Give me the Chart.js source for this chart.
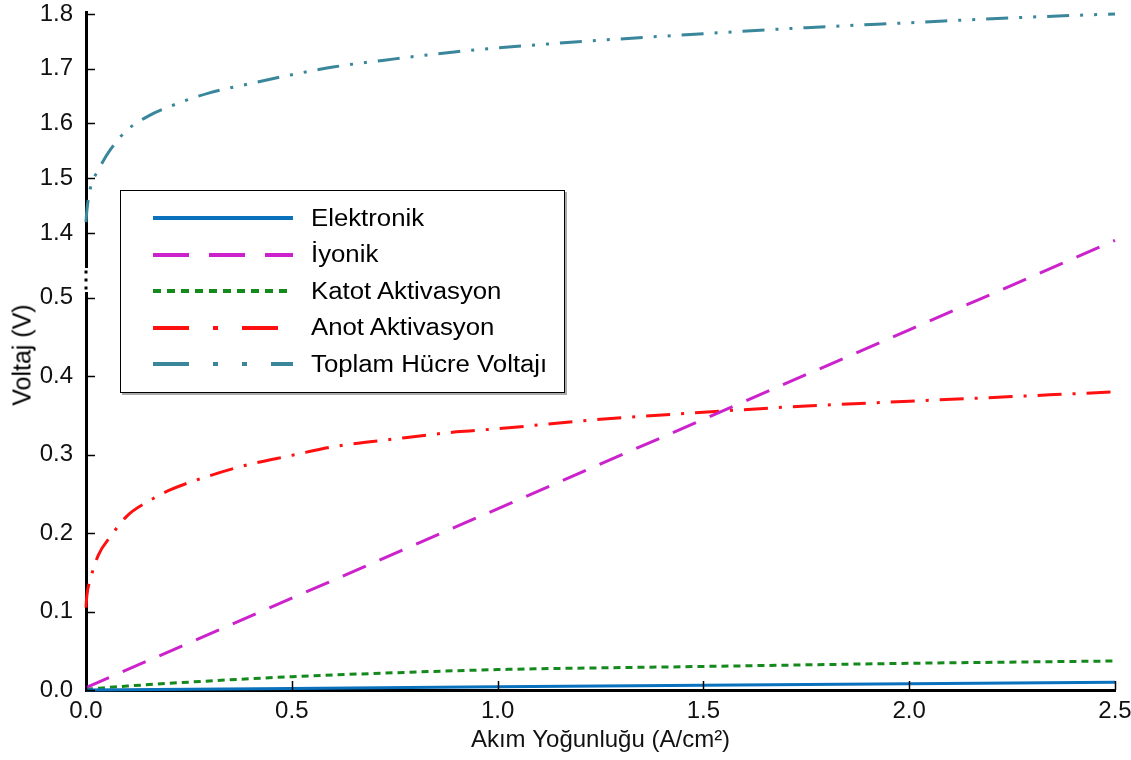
<!DOCTYPE html>
<html>
<head>
<meta charset="utf-8">
<script src="https://cdn.jsdelivr.net/npm/chart.js@4.4.1/dist/chart.umd.min.js"></script>
<style>
    body { margin: 0; background: #fff; font-family: "Liberation Sans", Arial, sans-serif; }
    #wrap { position: relative; width: 1131px; height: 760px; }
    #ytitle {
        position: absolute; left: 22px; top: 355px;
        transform: translate(-50%, -50%) rotate(-90deg);
        font-size: 25px; color: #000; white-space: nowrap;
    }
    #legend {
        position: absolute; left: 120px; top: 190px; width: 443px; height: 201px;
        border: 1.5px solid #000; background: #fff; box-shadow: 2px 2px 0 #aaa;
    }
    .row { position: absolute; left: 0; height: 36px; display: flex; align-items: center; }
    .row svg { margin-left: 32px; }
    .row span {
        margin-left: 18px; font-size: 23px; color: #000; white-space: nowrap;
        display: inline-block; transform: scaleX(1.12); transform-origin: left center;
    }
</style>
</head>
<body>
<div id="wrap">
    <canvas id="myChart"></canvas>
    <div id="ytitle">Voltaj (V)</div>
    <div id="legend"></div>
</div>
<script>
// series (x in A/cm2, y in V)
const elekX = [0, 0.5, 1.0, 1.5, 2.0, 2.5];
const elekY = [0.0, 0.002, 0.004, 0.006, 0.008, 0.010];

const iyonX = [0, 0.5, 1.0, 1.5, 2.0, 2.5];
const iyonY = [0.003, 0.117, 0.231, 0.345, 0.459, 0.573];

const katotX = [0, 0.1, 0.25, 0.5, 0.75, 1.0, 1.5, 2.0, 2.5];
const katotY = [0.001, 0.005, 0.010, 0.017, 0.022, 0.026, 0.030, 0.034, 0.037];

const anotX = [0, 0.002, 0.01, 0.03, 0.06, 0.1, 0.15, 0.2, 0.3, 0.4, 0.5, 0.6, 0.75, 0.9, 1.0, 1.25, 1.5, 1.75, 2.0, 2.25, 2.5];
const anotY = [0.105, 0.12, 0.14, 0.172, 0.196, 0.222, 0.240, 0.254, 0.273, 0.288, 0.299, 0.310, 0.320, 0.329, 0.333, 0.345, 0.354, 0.362, 0.368, 0.374, 0.380];

const toplamX = [0, 0.002, 0.01, 0.03, 0.06, 0.1, 0.15, 0.2, 0.3, 0.4, 0.5, 0.6, 0.75, 0.9, 1.0, 1.25, 1.5, 1.75, 2.0, 2.25, 2.5];
const toplamY = [1.42, 1.44, 1.48, 1.515, 1.553, 1.588, 1.613, 1.630, 1.656, 1.673, 1.689, 1.703, 1.718, 1.731, 1.738, 1.752, 1.764, 1.775, 1.784, 1.793, 1.800];

// axis ticks
const xTicks = [0, 0.5, 1.0, 1.5, 2.0, 2.5];
const yLowTicks = [0, 0.1, 0.2, 0.3, 0.4, 0.5];
const yHighTicks = [1.4, 1.5, 1.6, 1.7, 1.8];

const seriesNames = ['Elektronik', 'İyonik', 'Katot Aktivasyon', 'Anot Aktivasyon', 'Toplam Hücre Voltajı'];
const colors = ['#0a72bd', '#cc22cc', '#14891c', '#ff1010', '#3a879c'];
const dashes = [[], [25, 15], [7, 5], [24, 11, 3, 11], [22, 11, 3, 11, 3, 11]];
const legendDashes = [[], [36, 20], [8, 6], [36, 24, 5, 24], [36, 24, 5, 24, 5, 24]];

const font = { family: '"Liberation Sans", Arial, sans-serif', size: 24 };

function pts(xs, ys) {
    return xs.map((x, i) => ({ x: x, y: ys[i] }));
}

function makeSet(i, xs, ys, axis) {
    return {
        label: seriesNames[i],
        data: pts(xs, ys),
        yAxisID: axis,
        borderColor: colors[i],
        borderWidth: 3,
        borderDash: dashes[i],
        pointRadius: 0,
        cubicInterpolationMode: 'monotone',
        clip: false
    };
}

// inward tick marks and the broken y axis
const axisDecor = {
    id: 'axisDecor',
    afterDraw(chart) {
        const ctx = chart.ctx;
        const a = chart.chartArea;
        ctx.save();
        ctx.strokeStyle = '#000';
        ctx.lineWidth = 1.5;
        ['y', 'y2'].forEach(id => {
            const s = chart.scales[id];
            s.ticks.forEach(t => {
                const py = Math.round(s.getPixelForValue(t.value)) + 0.5;
                ctx.beginPath();
                ctx.moveTo(a.left, py);
                ctx.lineTo(a.left + 9, py);
                ctx.stroke();
            });
        });
        const sx = chart.scales.x;
        sx.ticks.forEach(t => {
            const px = Math.round(sx.getPixelForValue(t.value)) + 0.5;
            ctx.beginPath();
            ctx.moveTo(px, a.bottom);
            ctx.lineTo(px, a.bottom - 9);
            ctx.stroke();
        });
        const mid = chart.scales.y2.bottom - 2;
        ctx.fillStyle = '#fff';
        ctx.fillRect(a.left - 4, mid - 12, 8, 24);
        ctx.fillStyle = '#000';
        [-8, 0, 8].forEach(d => ctx.fillRect(a.left - 1.5, mid + d - 1.5, 3, 3));
        ctx.restore();
    }
};

function setTicks(list) {
    return function (scale) {
        scale.ticks = list.map(v => ({ value: v }));
    };
}

function fitY(scale) {
    scale.width = 86;
    scale.paddingTop = 0;
    scale.paddingBottom = 0;
}

function buildChart() {
    const ctx = document.getElementById('myChart');

    new Chart(ctx, {
        type: 'line',
        data: {
            datasets: [
                makeSet(0, elekX, elekY, 'y'),
                makeSet(1, iyonX, iyonY, 'y'),
                makeSet(2, katotX, katotY, 'y'),
                makeSet(3, anotX, anotY, 'y'),
                makeSet(4, toplamX, toplamY, 'y2')
            ]
        },
        options: {
            responsive: true,
            maintainAspectRatio: false,
            animation: false,
            layout: { padding: { left: 0, right: 16, top: 12, bottom: 0 } },
            plugins: {
                legend: { display: false },
                tooltip: { enabled: false }
            },
            scales: {
                x: {
                    type: 'linear',
                    min: 0,
                    max: 2.5,
                    afterBuildTicks: setTicks(xTicks),
                    afterFit: (scale) => { scale.height = 70; scale.paddingLeft = 0; scale.paddingRight = 0; },
                    grid: { display: false, drawTicks: false },
                    border: { color: '#000', width: 3 },
                    ticks: { font: font, color: '#111', padding: 7, maxRotation: 0, callback: (v) => v.toFixed(1) },
                    title: {
                        display: true,
                        text: 'Akım Yoğunluğu (A/cm²)',
                        font: font,
                        color: '#111',
                        padding: { top: 5, bottom: 5 }
                    }
                },
                y: {
                    type: 'linear',
                    position: 'left',
                    stack: 'v',
                    stackWeight: 408,
                    min: 0,
                    max: 0.52,
                    afterBuildTicks: setTicks(yLowTicks),
                    afterFit: fitY,
                    grid: { display: false, drawTicks: false },
                    border: { color: '#000', width: 3 },
                    ticks: { font: font, color: '#111', padding: 13, callback: (v) => v.toFixed(1) }
                },
                y2: {
                    type: 'linear',
                    position: 'left',
                    stack: 'v',
                    stackWeight: 270,
                    min: 1.3105,
                    max: 1.8036,
                    afterBuildTicks: setTicks(yHighTicks),
                    afterFit: fitY,
                    grid: { display: false, drawTicks: false },
                    border: { color: '#000', width: 3 },
                    ticks: { font: font, color: '#111', padding: 13, callback: (v) => v.toFixed(1) }
                }
            }
        },
        plugins: [axisDecor]
    });
}

function buildLegend() {
    const box = document.getElementById('legend');
    seriesNames.forEach((name, i) => {
        const row = document.createElement('div');
        row.className = 'row';
        row.style.top = (9 + i * 36.5) + 'px';
        const dash = legendDashes[i].length ? legendDashes[i].join(' ') : 'none';
        row.innerHTML = '<svg width="140" height="10"><line x1="0" y1="5" x2="140" y2="5" stroke="' + colors[i] +
            '" stroke-width="4" stroke-dasharray="' + dash + '"/></svg>';
        const label = document.createElement('span');
        label.textContent = name;
        row.appendChild(label);
        box.appendChild(row);
    });
}

buildChart();
buildLegend();
</script>
</body>
</html>
